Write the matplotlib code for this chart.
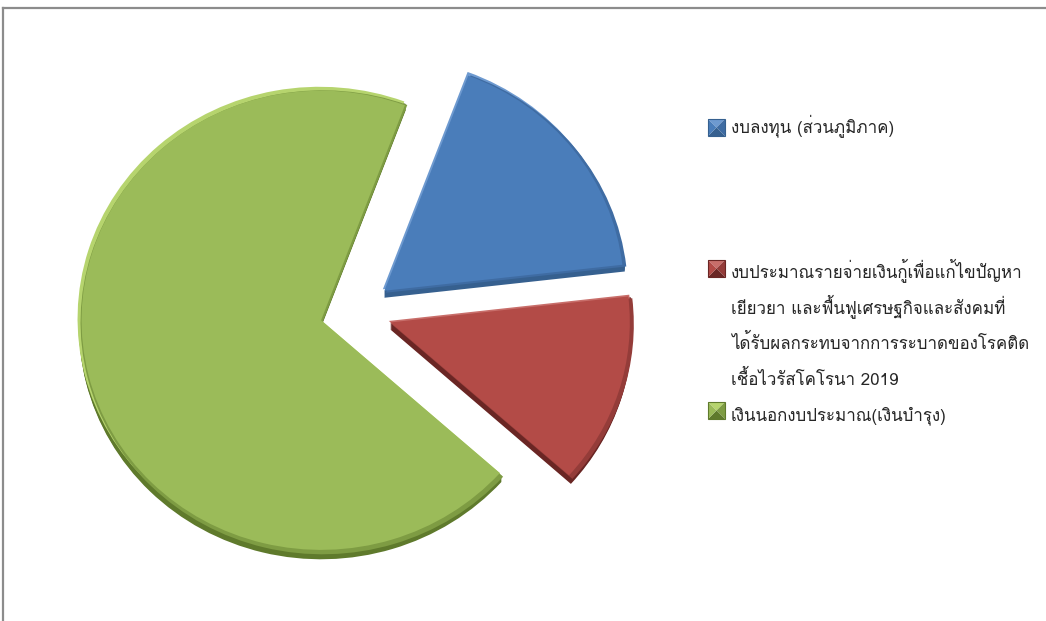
import numpy as np
import matplotlib
matplotlib.use('Agg')
import matplotlib.pyplot as plt
from matplotlib.patches import Polygon
from matplotlib.lines import Line2D

# data (share of total)
labels = ['งบลงทุน (ส่วนภูมิภาค)',
          'งบประมาณรายจ่ายเงินกู้เพื่อแก้ไขปัญหา\nเยียวยา และฟื้นฟูเศรษฐกิจและสังคมที่\nได้รับผลกระทบจากการระบาดของโรคติด\nเชื้อไวรัสโคโรนา 2019',
          'เงินนอกงบประมาณ(เงินบำรุง)']
values = [17.5, 13.4, 69.1]

face = ['#4A7DBA', '#B34B47', '#9BBB59']
side = ['#36608F', '#6A2624', '#5F7A2C']
light = ['#6E9AD0', '#C86E6A', '#B6D46E']
rim = ['#3F6CA3', '#943C39', '#7E9C43']

W, H = 1046, 621
k = 242 / 232.0          # squash the pie a little vertically
R = 242
cx, cy = 356, (H - 312) * k
expl = [36, 36, 36]      # pie() shifts by this many data units
start = 69.5
depth = 7

fig = plt.figure(figsize=(W / 100, H / 100), dpi=100)
ax = fig.add_axes([0, 0, 1, 1])

# thickness of the slices
for off in range(depth, 0, -1):
    ax.pie(values, center=(cx, cy - off * k), radius=R, explode=expl,
           colors=side, startangle=start, counterclock=False,
           wedgeprops=dict(linewidth=0))
# bevel: light rim upper left, dark rim lower right
ax.pie(values, center=(cx - 1.5, cy + 1.5 * k), radius=R, explode=expl,
       colors=light, startangle=start, counterclock=False,
       wedgeprops=dict(linewidth=0))
ax.pie(values, center=(cx + 1.5, cy - 2.0 * k), radius=R, explode=expl,
       colors=rim, startangle=start, counterclock=False,
       wedgeprops=dict(linewidth=0))
ax.pie(values, center=(cx, cy), radius=R - 2.5, explode=expl,
       colors=face, startangle=start, counterclock=False,
       wedgeprops=dict(linewidth=0))

ax.set_aspect('auto')
ax.set_xlim(0, W)
ax.set_ylim(0, H * k)
ax.axis('off')

# legend + frame in pixel coordinates
ax2 = fig.add_axes([0, 0, 1, 1], facecolor='none')
ax2.set_xlim(0, W)
ax2.set_ylim(H, 0)
ax2.axis('off')

ax2.add_line(Line2D([3, W], [8, 8], color='#8C8C8C', lw=1.6))
ax2.add_line(Line2D([3, 3], [8, H], color='#8C8C8C', lw=1.6))

box_top = [119, 260, 402]
base = [133, 277, 420]
step = 36
fam = ['Loma', 'DejaVu Sans']
for i in range(3):
    x0, y0, s = 708, box_top[i], 17
    xm, ym = x0 + s / 2, y0 + s / 2
    pts = [(x0, y0), (x0 + s, y0), (x0 + s, y0 + s), (x0, y0 + s)]
    shades = [light[i], rim[i], side[i], face[i]]
    for j in range(4):
        ax2.add_patch(Polygon([pts[j], pts[(j + 1) % 4], (xm, ym)],
                              closed=True, fc=shades[j], ec='none'))
    ax2.add_patch(Polygon(pts, closed=True, fc='none', ec=side[i], lw=0.8))
    for n, line in enumerate(labels[i].split('\n')):
        ax2.text(731, base[i] + n * step, line, va='baseline', ha='left',
                 fontsize=12.2, color='#262626', family=fam)

fig.savefig('out.png', dpi=100)
